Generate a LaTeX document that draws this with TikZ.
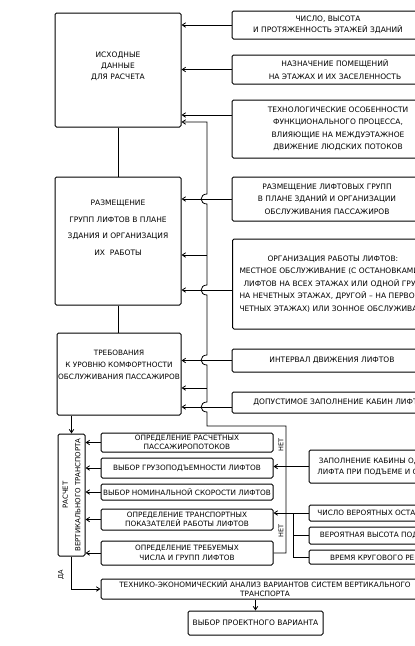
\documentclass[tikz,border=0pt]{standalone}
\usepackage{fontspec}
\setmainfont{DejaVu Sans}
\usetikzlibrary{arrows.meta}

\begin{document}
\begin{tikzpicture}[x=1pt, y=-1pt,
    font=\fontsize{7.5}{12.5}\selectfont,
    box/.style={draw, line width=1pt, rounded corners=1.5pt, align=center, inner sep=1pt},
    ttl/.style={align=center, inner sep=0pt},
    mbox/.style={box, minimum width=172pt, font=\fontsize{7.3}{9.5}\selectfont},
    lbox/.style={box, minimum width=142pt, font=\fontsize{7.3}{11}\selectfont},
    arr/.style={line width=0.8pt, -{Straight Barb[length=3.5pt, width=4.5pt]}},
    link/.style={line width=0.8pt},
    yesno/.style={rotate=90, inner sep=0.5pt, font=\fontsize{6.5}{7}\selectfont}]
    \useasboundingbox (0,0) rectangle (415,646);
    \clip (0,0) rectangle (415,646);

    % left column
    \node[box, minimum width=126pt, minimum height=114pt] (ishod) at (118,70) {};
    \node[ttl, font=\fontsize{7.5}{11}\selectfont] (ishod-t) at (118,66) {ИСХОДНЫЕ\\ДАННЫЕ\\ДЛЯ РАСЧЕТА};
    \node[box, minimum width=126pt, minimum height=128pt] (razm) at (118,241) {};
    \node[ttl, font=\fontsize{7.5}{16.5}\selectfont] (razm-t) at (118,228) {РАЗМЕЩЕНИЕ\\ГРУПП ЛИФТОВ В ПЛАНЕ\\ЗДАНИЯ И ОРГАНИЗАЦИЯ\\ИХ~~РАБОТЫ};
    \node[box, minimum width=124pt, minimum height=82pt] (treb) at (119,374) {};
    \node[ttl, font=\fontsize{7.3}{12}\selectfont] (treb-t) at (119,365) {ТРЕБОВАНИЯ\\К УРОВНЮ КОМФОРТНОСТИ\\ОБСЛУЖИВАНИЯ ПАССАЖИРОВ};
    \node[box, minimum width=27pt, minimum height=122pt] (raschet) at (71.5,495)
        {\rotatebox{90}{\fontsize{7}{12.5}\selectfont\begin{tabular}{@{}c@{}}РАСЧЕТ\\ВЕРТИКАЛЬНОГО ТРАНСПОРТА\end{tabular}}};

    % input data
    \node[box, minimum width=192pt, minimum height=28pt] (r1) at (328,25) {ЧИСЛО, ВЫСОТА\\[-1.5pt]И ПРОТЯЖЕННОСТЬ ЭТАЖЕЙ ЗДАНИЙ};
    \node[box, minimum width=206pt, minimum height=29pt] (r2) at (335,69.5) {НАЗНАЧЕНИЕ ПОМЕЩЕНИЙ\\НА ЭТАЖАХ И ИХ ЗАСЕЛЕННОСТЬ};
    \node[box, minimum width=212pt, minimum height=58pt] (r3) at (338,129) {ТЕХНОЛОГИЧЕСКИЕ ОСОБЕННОСТИ\\ФУНКЦИОНАЛЬНОГО ПРОЦЕССА,\\ВЛИЯЮЩИЕ НА МЕЖДУЭТАЖНОЕ\\ДВИЖЕНИЕ ЛЮДСКИХ ПОТОКОВ};
    \node[box, minimum width=190pt, minimum height=44pt] (r4) at (327,199) {РАЗМЕЩЕНИЕ ЛИФТОВЫХ ГРУПП\\В ПЛАНЕ ЗДАНИЙ И ОРГАНИЗАЦИИ\\ОБСЛУЖИВАНИЯ ПАССАЖИРОВ};
    \node[box, anchor=west, align=left, text width=230pt, inner xsep=7pt, minimum height=90pt] (r5) at (232,284)
        {\hspace*{28pt}ОРГАНИЗАЦИЯ РАБОТЫ ЛИФТОВ:\\МЕСТНОЕ ОБСЛУЖИВАНИЕ (С ОСТАНОВКАМИ\\\hspace*{4pt}ЛИФТОВ НА ВСЕХ ЭТАЖАХ ИЛИ ОДНОЙ ГРУППЫ\\НА НЕЧЕТНЫХ ЭТАЖАХ, ДРУГОЙ – НА ПЕРВОМ И\\ЧЕТНЫХ ЭТАЖАХ) ИЛИ ЗОННОЕ ОБСЛУЖИВАНИЕ};
    \node[box, minimum width=200pt, minimum height=23pt] (r6) at (332,360.5) {ИНТЕРВАЛ ДВИЖЕНИЯ ЛИФТОВ};
    \node[box, minimum width=218pt, minimum height=21pt] (r7) at (341,402.5) {ДОПУСТИМОЕ ЗАПОЛНЕНИЕ КАБИН ЛИФТОВ};

    % calculation steps
    \node[mbox, minimum height=19pt] (m1) at (187,442.5) {ОПРЕДЕЛЕНИЕ РАСЧЕТНЫХ\\ПАССАЖИРОПОТОКОВ};
    \node[mbox, minimum height=20pt] (m2) at (187,468) {ВЫБОР ГРУЗОПОДЪЕМНОСТИ ЛИФТОВ};
    \node[mbox, minimum height=16pt] (m3) at (187,492) {ВЫБОР НОМИНАЛЬНОЙ СКОРОСТИ ЛИФТОВ};
    \node[mbox, minimum height=21pt] (m4) at (187,519.5) {ОПРЕДЕЛЕНИЕ ТРАНСПОРТНЫХ\\ПОКАЗАТЕЛЕЙ РАБОТЫ ЛИФТОВ};
    \node[mbox, minimum height=24pt] (m5) at (187,553) {ОПРЕДЕЛЕНИЕ ТРЕБУЕМЫХ\\ЧИСЛА И ГРУПП ЛИФТОВ};

    \node[lbox, minimum height=33pt] (l1) at (380,466.5) {ЗАПОЛНЕНИЕ КАБИНЫ ОДНОГО\\ЛИФТА ПРИ ПОДЪЕМЕ И СПУСКЕ};
    \node[lbox, minimum height=16pt] (l2) at (380,513) {ЧИСЛО ВЕРОЯТНЫХ ОСТАНОВОК};
    \node[lbox, minimum height=17pt] (l3) at (380,535.5) {ВЕРОЯТНАЯ ВЫСОТА ПОДЪЕМА};
    \node[lbox, minimum height=14pt] (l4) at (380,557) {ВРЕМЯ КРУГОВОГО РЕЙСА};

    \node[box, minimum width=328pt, minimum height=20pt, font=\fontsize{7.3}{9}\selectfont] (b1) at (265,589)
        {ТЕХНИКО-ЭКОНОМИЧЕСКИЙ АНАЛИЗ ВАРИАНТОВ СИСТЕМ ВЕРТИКАЛЬНОГО\\ТРАНСПОРТА};
    \node[box, minimum width=135pt, minimum height=24pt] (b2) at (255.5,623) {ВЫБОР ПРОЕКТНОГО ВАРИАНТА};

    % connectors
    \draw[link] (ishod.south) -- (razm.north);
    \draw[link] (razm.south) -- (razm.south |- treb.north);
    \draw[arr] (raschet.north |- treb.south) -- (raschet.north);

    \draw[arr] (r1.west) -- (r1.west -| ishod.east);
    \draw[arr] (r2.west) -- (r2.west -| ishod.east);
    \draw[arr] ([yshift=14pt]r3.west) -- ([yshift=14pt]r3.west -| ishod.east);
    \draw[arr] (r4.west) -- (r4.west -| razm.east);
    \draw[arr] ([yshift=-6pt]r5.west) -- ([yshift=-6pt]r5.west -| razm.east);
    \draw[arr] (r6.west) -- (r6.west -| treb.east);
    \draw[arr] ([yshift=-4.5pt]r7.west) -- ([yshift=-4.5pt]r7.west -| treb.east);

    % return loop
    \coordinate (fb-right) at (286,426);
    \coordinate (fb-left) at (207,426);
    \coordinate (fb-top) at (207,122);
    \coordinate (fb-razm) at (207,255);
    \coordinate (fb-treb) at (207,388);
    \draw[arr] (m5.east) -| (fb-right) -- (fb-left)
        -- (207,412) to[out=180, in=180, looseness=2] (207,402)
        -- (207,365) to[out=180, in=180, looseness=2] (207,355)
        -- (207,295) to[out=180, in=180, looseness=2] (207,285)
        -- (207,204) to[out=180, in=180, looseness=2] (207,194)
        -- (fb-top) -- (fb-top -| ishod.east);
    \draw[arr] (fb-razm) -- (fb-razm -| razm.east);
    \draw[arr] (fb-treb) -- (fb-treb -| treb.east);
    \node[yesno] (net1) at (281,445) {НЕТ};
    \node[yesno] (net2) at (281,531) {НЕТ};

    \foreach \mb in {m1,m2,m3,m4,m5}
        \draw[arr] (\mb.west) -- (\mb.west -| raschet.east);

    \coordinate (bus) at (293,513);
    \draw[arr] (l1.west) -- (l1.west -| m2.east);
    \draw[arr] (l2.west) -- (l2.west -| m4.east);
    \draw[link] (l3.west) -| (bus);
    \draw[link] (l4.west) -| (bus);

    \draw[arr] (raschet.south) |- (b1.west);
    \node[yesno] (da) at (61,575) {ДА};
    \draw[arr] (b2.north |- b1.south) -- (b2.north);
\end{tikzpicture}
\end{document}
